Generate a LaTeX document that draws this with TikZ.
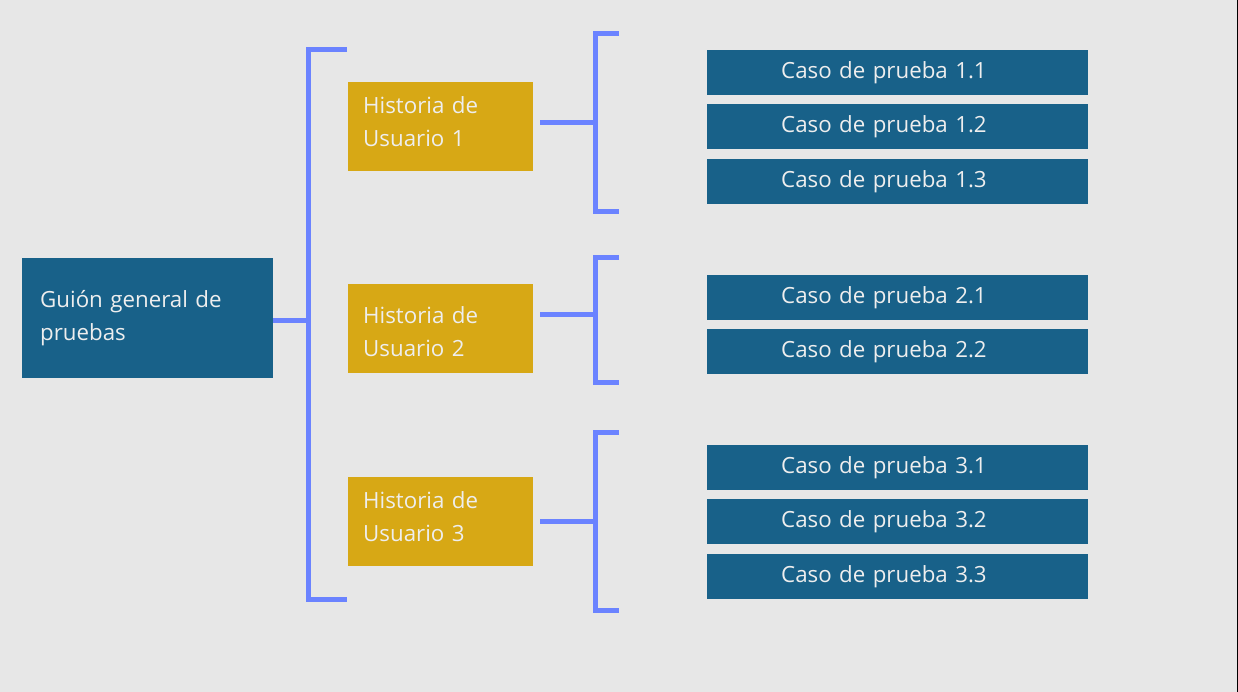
\documentclass[tikz,border=0pt]{standalone}
\usepackage{fontspec}
\setmainfont{Open Sans}
\definecolor{bgGray}{HTML}{E7E7E7}
\definecolor{guionBlue}{HTML}{186189}
\definecolor{historyGold}{HTML}{D7A815}
\definecolor{brackBlue}{HTML}{6B83FF}
\definecolor{boxText}{HTML}{EEEEEE}

\begin{document}
\begin{tikzpicture}[x=1pt, y=-1pt,
  boxfont/.style={font=\fontsize{22.3}{33}\selectfont, text=boxText, align=left, anchor=north west, inner ysep=0pt},
  guion/.style={boxfont, fill=guionBlue, inner xsep=18pt, text width=215pt, minimum height=120pt},
  historia/.style={boxfont, fill=historyGold, inner xsep=15pt, text width=155pt, minimum height=89pt, text depth=43.5pt},
  caso/.style={boxfont, fill=guionBlue, inner xsep=74pt, text width=233pt, minimum height=44.5pt},
  brack/.style={draw=brackBlue, line width=5pt}]
  \useasboundingbox (0,0) rectangle (1238,692);
  \fill[bgGray] (0,0) rectangle (1238,692);
  \fill[black] (1237,0) rectangle (1238,692);

  \node[guion] (guion) at (22,258) {Guión general de\\pruebas};
  \node[historia] (hu1) at (348,82) {Historia de\\Usuario 1};
  \node[historia, text depth=27.5pt] (hu2) at (348,284) {Historia de\\Usuario 2};
  \node[historia] (hu3) at (348,477) {Historia de\\Usuario 3};

  \foreach \lbl/\nm/\yy in {1.1/c11/50, 1.2/c12/104, 1.3/c13/159,
      2.1/c21/275, 2.2/c22/329,
      3.1/c31/445, 3.2/c32/499, 3.3/c33/554}
    \node[caso] (\nm) at (707,\yy) {Caso de prueba \lbl};

  \draw[brack] (347,49.5) -- (308.5,49.5) -- (308.5,599) -- (347,599);
  \coordinate (mainJoin) at (308.5,320);
  \draw[brack] (guion.east |- mainJoin) -- (mainJoin);

  \foreach \n/\ya/\yb/\ym in {1/33.5/212/122.5, 2/258/382/314, 3/432.5/610.5/521.5} {
    \draw[brack] (619,\ya) -- (595,\ya) -- (595,\yb) -- (619,\yb);
    \coordinate (join\n) at (595,\ym);
    \draw[brack] (hu\n.east |- join\n) ++(7,0) -- (join\n);
  }
\end{tikzpicture}
\end{document}
